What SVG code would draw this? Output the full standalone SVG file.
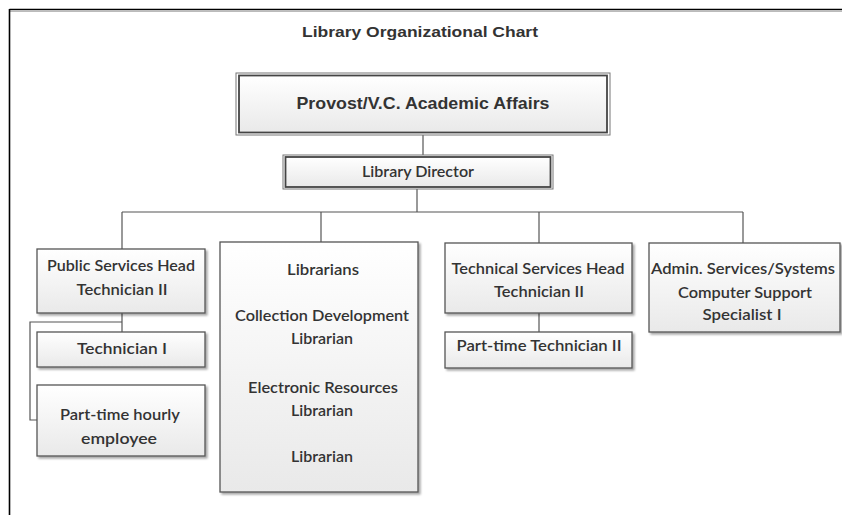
<svg xmlns="http://www.w3.org/2000/svg" width="842" height="515" viewBox="0 0 842 515">
  <defs>
    <linearGradient id="boxfill" x1="0" y1="0" x2="0" y2="1">
      <stop offset="0" stop-color="#ffffff"/>
      <stop offset="1" stop-color="#e9e9e9"/>
    </linearGradient>
    <filter id="shadow" x="-10%" y="-10%" width="130%" height="130%">
      <feGaussianBlur in="SourceAlpha" stdDeviation="1.2"/>
      <feOffset dx="1.5" dy="1.5" result="b"/>
      <feComponentTransfer><feFuncA type="linear" slope="0.35"/></feComponentTransfer>
      <feMerge><feMergeNode/><feMergeNode in="SourceGraphic"/></feMerge>
    </filter>
  </defs>
  <style>
    .box { fill: url(#boxfill); stroke: #555; stroke-width: 1.3; filter: url(#shadow); }
    .outer { fill: none; stroke: #777; stroke-width: 1; }
    .inner { fill: url(#boxfill); stroke: #444; stroke-width: 1.8; }
    .t { font-family: Lato, "Open Sans", "Liberation Sans", sans-serif; font-size: 15px; fill: #333; text-anchor: middle; font-weight: 600; }
    .h { font-family: "Liberation Sans", Arial, sans-serif; font-weight: bold; fill: #333; text-anchor: middle; }
    .c { fill: none; stroke: #555; stroke-width: 1.2; }
  </style>
  <rect x="0" y="0" width="842" height="515" fill="#ffffff"/>
  <g id="frame">
    <line x1="9.5" y1="9.5" x2="842" y2="9.5" stroke="#000" stroke-width="1.6"/>
    <line x1="10" y1="11.5" x2="842" y2="11.5" stroke="#bbb" stroke-width="1"/>
    <line x1="9.5" y1="9" x2="9.5" y2="515" stroke="#000" stroke-width="1.6"/>
  </g>
  <text id="title" class="h" x="420" y="37" font-size="14" textLength="236" lengthAdjust="spacingAndGlyphs">Library Organizational Chart</text>

  <g id="connectors">
    <line class="c" x1="423" y1="135" x2="423" y2="155"/>
    <line class="c" x1="417" y1="189" x2="417" y2="212"/>
    <line class="c" x1="122" y1="212" x2="743" y2="212"/>
    <line class="c" x1="122" y1="212" x2="122" y2="249"/>
    <line class="c" x1="321" y1="212" x2="321" y2="242"/>
    <line class="c" x1="539" y1="212" x2="539" y2="243"/>
    <line class="c" x1="743" y1="212" x2="743" y2="243"/>
    <line class="c" x1="122" y1="313" x2="122" y2="332"/>
    <polyline class="c" points="122,322 30,322 30,420 37,420"/>
    <line class="c" x1="539" y1="313" x2="539" y2="332"/>
  </g>

  <g id="provost">
    <rect class="outer" x="236" y="73" width="374" height="62"/>
    <rect class="inner" x="239" y="75.5" width="368" height="57"/>
    <text class="h" x="423" y="109" font-size="17" textLength="253" lengthAdjust="spacingAndGlyphs">Provost/V.C. Academic Affairs</text>
  </g>
  <g id="director">
    <rect class="outer" x="283" y="155" width="270" height="34"/>
    <rect class="inner" x="285.5" y="157" width="265" height="30"/>
    <text class="t" x="418" y="177" textLength="112" lengthAdjust="spacingAndGlyphs">Library Director</text>
  </g>
  <g id="public-services">
    <rect class="box" x="37" y="249" width="168" height="64"/>
    <text class="t" x="121" y="271" textLength="148" lengthAdjust="spacingAndGlyphs">Public Services Head</text>
    <text class="t" x="122" y="295" textLength="91" lengthAdjust="spacingAndGlyphs">Technician II</text>
  </g>
  <g id="technician-1">
    <rect class="box" x="37" y="332" width="168" height="35"/>
    <text class="t" x="122" y="354" textLength="90" lengthAdjust="spacingAndGlyphs">Technician I</text>
  </g>
  <g id="part-time-hourly">
    <rect class="box" x="37" y="385" width="168" height="71"/>
    <text class="t" x="120" y="420" textLength="120" lengthAdjust="spacingAndGlyphs">Part-time hourly</text>
    <text class="t" x="119" y="444" textLength="76" lengthAdjust="spacingAndGlyphs">employee</text>
  </g>
  <g id="librarians">
    <rect class="box" x="220" y="242" width="198" height="250"/>
    <text class="t" x="323" y="275" textLength="72" lengthAdjust="spacingAndGlyphs">Librarians</text>
    <text class="t" x="322" y="321" textLength="174" lengthAdjust="spacingAndGlyphs">Collection Development</text>
    <text class="t" x="322" y="344" textLength="62" lengthAdjust="spacingAndGlyphs">Librarian</text>
    <text class="t" x="323" y="393" textLength="150" lengthAdjust="spacingAndGlyphs">Electronic Resources</text>
    <text class="t" x="322" y="416" textLength="62" lengthAdjust="spacingAndGlyphs">Librarian</text>
    <text class="t" x="322" y="462" textLength="62" lengthAdjust="spacingAndGlyphs">Librarian</text>
  </g>
  <g id="technical-services">
    <rect class="box" x="445" y="243" width="187" height="70"/>
    <text class="t" x="538" y="274" textLength="173" lengthAdjust="spacingAndGlyphs">Technical Services Head</text>
    <text class="t" x="539" y="297" textLength="90" lengthAdjust="spacingAndGlyphs">Technician II</text>
  </g>
  <g id="part-time-tech-2">
    <rect class="box" x="445" y="332" width="187" height="36"/>
    <text class="t" x="539" y="351" textLength="165" lengthAdjust="spacingAndGlyphs">Part-time Technician II</text>
  </g>
  <g id="admin-services">
    <rect class="box" x="649" y="243" width="191" height="89"/>
    <text class="t" x="743" y="274" textLength="184" lengthAdjust="spacingAndGlyphs">Admin. Services/Systems</text>
    <text class="t" x="745" y="298" textLength="134" lengthAdjust="spacingAndGlyphs">Computer Support</text>
    <text class="t" x="742" y="320" textLength="79" lengthAdjust="spacingAndGlyphs">Specialist I</text>
  </g>
</svg>
